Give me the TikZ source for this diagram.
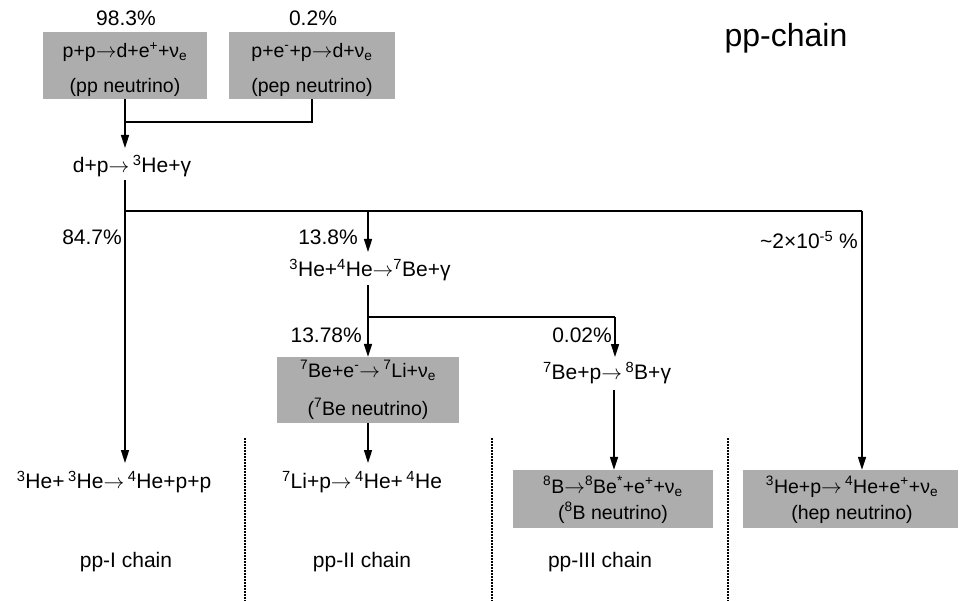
\documentclass[tikz,border=0pt]{standalone}
\usepackage{fontspec}
\setmainfont{Liberation Sans}
\usetikzlibrary{arrows.meta}
\definecolor{boxgray}{gray}{0.68}
\newcommand{\rarr}{\ensuremath{\rightarrow}}
\begin{document}
\begin{tikzpicture}[x=1pt,y=-1pt,
  txt/.style={inner sep=0pt, font=\fontsize{21}{25}\selectfont},
  gbox/.style={fill=boxgray, draw=none, inner sep=0pt},
  btxt/.style={inner sep=0pt, align=center, font=\fontsize{19.5}{35}\selectfont},
  conn/.style={line width=1.6pt},
  arr/.style={line width=1.6pt, -{Triangle[length=13pt,width=8pt]}},
  sepline/.style={line width=1.5pt, dash pattern=on 1.5pt off 1.5pt}]
\useasboundingbox (0,0) rectangle (960,601);

% boxes
\node[gbox, minimum width=164pt, minimum height=67pt] (b1) at (125,65.5) {};
\node[btxt] (b1t) at (125,69.5)
  {p+p\rarr d+e\textsuperscript{+}+ν\textsubscript{e}\\(pp neutrino)};
\node[gbox, minimum width=166pt, minimum height=67pt] (b2) at (312,65.5) {};
\node[btxt] (b2t) at (312,69.5)
  {p+e\textsuperscript{-}+p\rarr d+ν\textsubscript{e}\\(pep neutrino)};
\node[gbox, minimum width=182pt, minimum height=66pt] (b3) at (368,390) {};
\node[btxt, font=\fontsize{19.5}{38}\selectfont] (b3t) at (368,390)
  {\textsuperscript{7}Be+e\textsuperscript{-}\rarr\,\textsuperscript{7}Li+ν\textsubscript{e}\\(\textsuperscript{7}Be neutrino)};
\node[gbox, minimum width=200pt, minimum height=58pt] (b4) at (613,499) {};
\node[btxt, font=\fontsize{19.5}{26}\selectfont] (b4t) at (613,500)
  {\textsuperscript{8}B\rarr\textsuperscript{8}Be\textsuperscript{*}+e\textsuperscript{+}+ν\textsubscript{e}\\(\textsuperscript{8}B neutrino)};
\node[gbox, minimum width=215pt, minimum height=58pt] (b5) at (850.5,499) {};
\node[btxt, font=\fontsize{19.5}{26}\selectfont] (b5t) at (852,500)
  {\textsuperscript{3}He+p\rarr\,\textsuperscript{4}He+e\textsuperscript{+}+ν\textsubscript{e}\\(hep neutrino)};

% texts
\node[txt] (pct1) at (126,18) {98.3\%};
\node[txt] (pct2) at (313,18) {0.2\%};
\node[txt, font=\fontsize{32}{38}\selectfont] (title) at (786,38) {pp-chain};
\node[txt] (dp) at (132,166) {d+p\rarr\,\textsuperscript{3}He+γ};
\node[txt] (he4) at (370,270) {\textsuperscript{3}He+\textsuperscript{4}He\rarr\textsuperscript{7}Be+γ};
\node[txt] (bep) at (607,373) {\textsuperscript{7}Be+p\rarr\,\textsuperscript{8}B+γ};
\node[txt] (he3he3) at (114,482) {\textsuperscript{3}He+\,\textsuperscript{3}He\rarr\,\textsuperscript{4}He+p+p};
\node[txt] (lip) at (362,482) {\textsuperscript{7}Li+p\rarr\,\textsuperscript{4}He+\,\textsuperscript{4}He};
\node[txt] (c1) at (126,562) {pp-I chain};
\node[txt] (c2) at (362,562) {pp-II chain};
\node[txt] (c3) at (600,562) {pp-III chain};
\node[txt, anchor=east] (p847) at (122,237) {84.7\%};
\node[txt, anchor=east] (p138) at (358,237) {13.8\%};
\node[txt, anchor=east] (p1378) at (362,335) {13.78\%};
\node[txt, anchor=east] (p002) at (612,335) {0.02\%};
\node[txt, anchor=east] (phep) at (858,240) {\textasciitilde 2×10\textsuperscript{-5} \%};

% connectors
\coordinate (j0) at (125,122);
\coordinate (t0) at (125,148);
\draw[conn] (b2.south) -- (b2.south |- j0) -- (j0);
\draw[arr] (b1.south) -- (t0);

\coordinate (s1) at (125,180);
\coordinate (t1) at (125,463);
\draw[arr] (s1) -- (t1);
\coordinate (j1) at (125,211);
\coordinate (j2) at (368,211);
\coordinate (j3) at (862,211);
\coordinate (t2) at (368,252);
\draw[conn] (j1) -- (j3);
\draw[arr] (j2) -- (t2);
\draw[arr] (j3) -- (b5.north -| j3);

\coordinate (s3) at (368,285);
\draw[arr] (s3) -- (b3.north);
\coordinate (j4) at (368,317);
\coordinate (j5) at (615,317);
\coordinate (t4) at (615,357);
\draw[conn] (j4) -- (j5);
\draw[arr] (j5) -- (t4);

\coordinate (t5) at (368,463);
\draw[arr] (b3.south) -- (t5);
\coordinate (s6) at (614,390);
\draw[arr] (s6) -- (b4.north -| s6);

% separators
\draw[sepline] (245,438) -- (245,601);
\draw[sepline] (492,438) -- (492,601);
\draw[sepline] (728,438) -- (728,601);
\end{tikzpicture}
\end{document}
